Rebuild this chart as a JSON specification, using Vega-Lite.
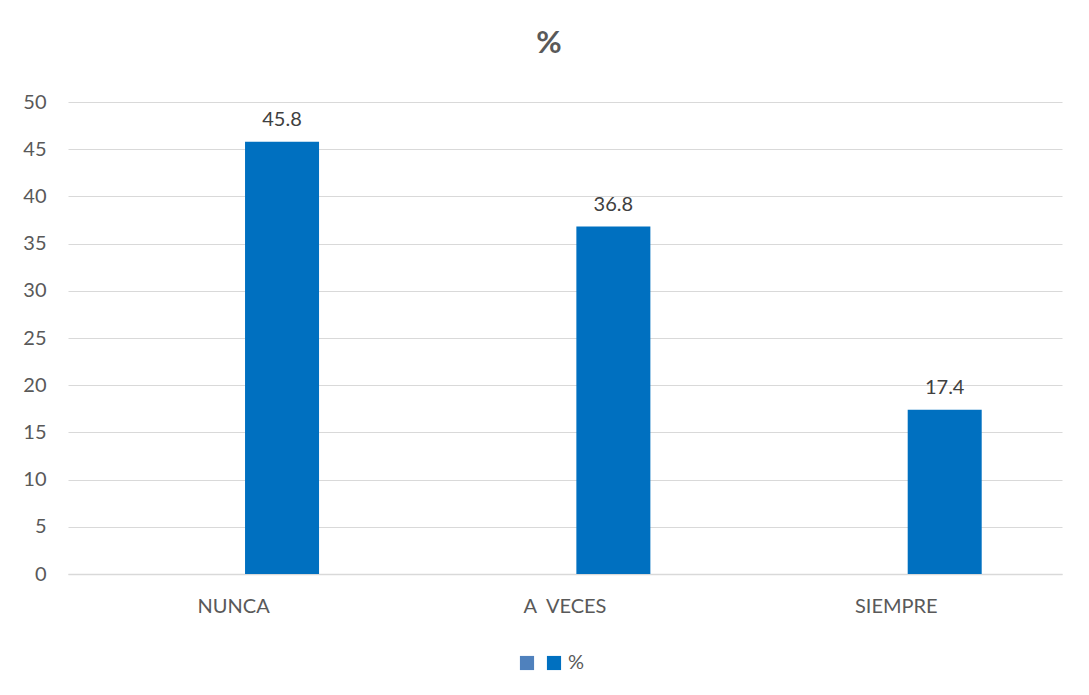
{
  "$schema": "https://vega.github.io/schema/vega-lite/v6.json",
  "autosize": "none",
  "width": 994,
  "height": 472,
  "padding": {"left": 68, "top": 102, "right": 27, "bottom": 121},
  "background": "white",
  "title": {"text": "%", "fontSize": 31, "fontWeight": "bold", "color": "#595959", "font": "Lato", "anchor": "middle", "frame": "group", "dx": -16, "baseline": "alphabetic", "offset": 8},
  "config": {"view": {"stroke": null}, "font": "Lato"},
  "data": {"values": [
    {"cat": "NUNCA", "series": "s1", "value": null},
    {"cat": "NUNCA", "series": "%", "value": 45.8},
    {"cat": "A\u00a0\u00a0VECES", "series": "s1", "value": null},
    {"cat": "A\u00a0\u00a0VECES", "series": "%", "value": 36.8},
    {"cat": "SIEMPRE", "series": "s1", "value": null},
    {"cat": "SIEMPRE", "series": "%", "value": 17.4}
  ]},
  "encoding": {
    "x": {"field": "cat", "type": "nominal", "sort": null,
      "scale": {"paddingInner": 0, "paddingOuter": 0},
      "axis": {"title": null, "labelAngle": 0, "ticks": false, "domainColor": "#d9d9d9", "domainWidth": 1.5, "labelFontSize": 20, "labelColor": "#595959", "labelPadding": 22, "grid": false}},
    "xOffset": {"field": "series", "type": "nominal", "sort": ["s1", "%"],
      "scale": {"domain": ["s1", "%"], "paddingInner": 0.235, "paddingOuter": 0.83}},
    "y": {"field": "value", "type": "quantitative",
      "scale": {"domain": [0, 50]},
      "axis": {"title": null, "values": [0,5,10,15,20,25,30,35,40,45,50], "labelOverlap": false, "domain": false, "ticks": false, "gridColor": "#d9d9d9", "gridWidth": 1.2, "labelFontSize": 20, "labelColor": "#595959", "labelPadding": 22}}
  },
  "layer": [
    {"mark": {"type": "bar"},
     "encoding": {"color": {"field": "series", "type": "nominal",
        "scale": {"domain": ["s1", "%"], "range": ["#4f81bd", "#0070c0"]},
        "legend": {"title": null, "orient": "none", "legendX": 449, "legendY": 551, "direction": "horizontal", "symbolType": "square", "symbolSize": 200, "symbolStrokeWidth": 0, "labelFontSize": 20, "labelColor": "#595959", "labelExpr": "datum.label == 's1' ? '' : datum.label", "columnPadding": 3, "labelOffset": 4}}}},
    {"mark": {"type": "text", "dy": -12, "baseline": "bottom", "fontSize": 20, "color": "#404040"},
     "encoding": {"text": {"field": "value", "type": "quantitative", "format": ".1f"}}}
  ]
}
